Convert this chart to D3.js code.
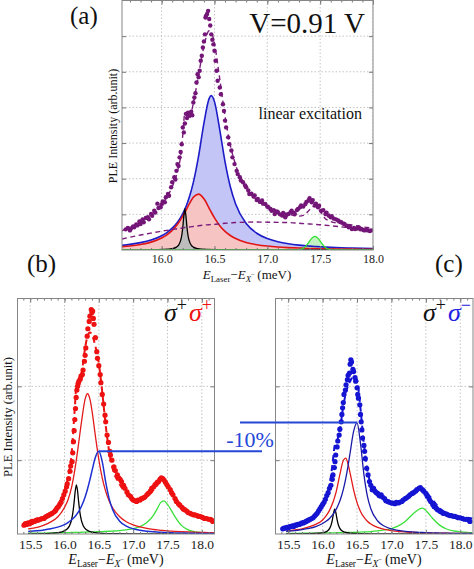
<!DOCTYPE html>
<html>
<head>
<meta charset="utf-8">
<script src="https://cdn.jsdelivr.net/npm/d3@7"></script>
<style>
  body { margin: 0; background: #fff; }
  svg { display: block; font-family: "Liberation Serif", serif; }
  svg text { font-family: "Liberation Serif", serif; }
</style>
</head>
<body>
<svg id="fig" width="474" height="569"></svg>
<script>
// ---- panel (a): linear excitation, V = 0.91 V ----
var aE = [15.625,15.7,15.8,15.9,16.0,16.05,16.1,16.15,16.18,16.2,16.22,16.24,16.26,16.3,16.35,16.4,16.45,16.47,16.5,16.55,16.6,16.65,16.7,16.8,16.9,17.0,17.1,17.2,17.3,17.35,17.4,17.45,17.5,17.55,17.6,17.7,17.8,17.9,18.0];
var aBlue = [0.132,0.159,0.207,0.280,0.400,0.490,0.612,0.780,0.914,1.021,1.146,1.293,1.463,1.896,2.640,3.555,4.254,4.33,4.163,3.372,2.473,1.775,1.293,0.741,0.470,0.321,0.232,0.175,0.137,0.122,0.110,0.099,0.090,0.082,0.075,0.063,0.054,0.047,0.041];
var aRed = [0.092,0.113,0.154,0.221,0.336,0.426,0.550,0.722,0.853,0.952,1.059,1.171,1.284,1.478,1.569,1.436,1.171,1.059,0.901,0.683,0.522,0.406,0.321,0.212,0.149,0.110,0.084,0.067,0.054,0.049,0.044,0.041,0.037,0.034,0.032,0.027,0.024,0.021,0.018];
var aBack = [0.31,0.36,0.42,0.475,0.53,0.55,0.57,0.60,0.61,0.62,0.63,0.64,0.645,0.66,0.68,0.70,0.71,0.715,0.72,0.735,0.75,0.76,0.77,0.78,0.785,0.78,0.775,0.77,0.75,0.74,0.73,0.72,0.71,0.695,0.68,0.65,0.62,0.585,0.55];
var aTotal = [0.54,0.63,0.78,0.98,1.28,1.49,1.77,2.21,2.64,3.22,3.85,3.75,3.68,4.12,4.92,5.71,6.15,6.11,5.79,4.80,3.75,2.94,2.39,1.74,1.41,1.21,1.09,1.01,0.95,0.98,1.13,1.24,1.08,0.88,0.80,0.74,0.70,0.65,0.61];
var aBlackE = [15.625,15.9,16.02,16.1,16.14,16.16,16.18,16.19,16.2,16.21,16.22,16.23,16.24,16.25,16.26,16.28,16.3,16.34,16.42,16.6,18.0];
var aBlack = [0.002,0.005,0.014,0.037,0.081,0.136,0.27,0.40,0.63,0.95,1.15,0.95,0.63,0.40,0.27,0.136,0.081,0.037,0.014,0.004,0.001];
var aGreenE = [15.625,17.25,17.29,17.33,17.36,17.39,17.42,17.45,17.48,17.51,17.54,17.57,17.61,17.65,18.0];
var aGreen = [0,0,0.005,0.032,0.095,0.205,0.326,0.38,0.326,0.205,0.095,0.032,0.005,0,0];
var aDots = [[15.66,0.58],[15.68,0.62],[15.70,0.55],[15.71,0.60],[15.73,0.66],[15.74,0.64],[15.76,0.72],[15.77,0.69],[15.79,0.80],[15.80,0.73],[15.82,0.86],[15.83,0.78],[15.85,0.90],[15.87,0.92],[15.88,0.86],[15.90,1.01],[15.91,0.96],[15.93,1.10],[15.94,1.05],[15.96,1.30],[15.97,1.18],[15.99,1.20],[16.00,1.28],[16.01,1.36],[16.03,1.34],[16.04,1.48],[16.06,1.57],[16.07,1.52],[16.09,1.76],[16.10,1.90],[16.12,2.04],[16.13,1.98],[16.14,2.22],[16.15,2.41],[16.16,2.36],[16.17,2.60],[16.18,2.75],[16.19,2.97],[16.20,3.44],[16.21,3.30],[16.22,3.55],[16.23,3.82],[16.24,3.70],[16.25,3.85],[16.26,3.77],[16.27,3.80],[16.28,3.88],[16.29,3.78],[16.30,4.14],[16.31,4.28],[16.32,4.40],[16.33,4.70],[16.34,4.93],[16.35,4.85],[16.36,5.03],[16.37,5.31],[16.38,5.45],[16.39,5.68],[16.40,5.85],[16.41,6.05],[16.415,6.52],[16.42,6.57],[16.43,6.62],[16.44,6.71],[16.45,6.48],[16.46,6.30],[16.47,6.05],[16.48,5.90],[16.49,5.77],[16.50,5.59],[16.51,5.31],[16.52,5.03],[16.53,4.75],[16.55,4.56],[16.56,4.37],[16.58,4.09],[16.59,3.90],[16.60,3.63],[16.61,3.44],[16.63,3.16],[16.64,2.97],[16.66,2.79],[16.67,2.60],[16.69,2.41],[16.71,2.22],[16.72,2.13],[16.74,2.04],[16.75,1.95],[16.77,1.90],[16.79,1.81],[16.80,1.76],[16.82,1.67],[16.83,1.57],[16.85,1.58],[16.87,1.50],[16.88,1.53],[16.90,1.40],[16.91,1.43],[16.93,1.35],[16.95,1.39],[16.96,1.30],[16.98,1.29],[17.00,1.22],[17.01,1.20],[17.03,1.15],[17.04,1.10],[17.06,1.12],[17.07,1.01],[17.09,1.08],[17.10,1.06],[17.12,1.00],[17.14,0.97],[17.15,1.04],[17.17,0.92],[17.18,0.98],[17.20,1.01],[17.22,1.06],[17.23,1.10],[17.25,1.05],[17.26,1.01],[17.28,1.12],[17.29,1.15],[17.31,1.20],[17.32,1.25],[17.34,1.22],[17.36,1.29],[17.37,1.35],[17.39,1.39],[17.40,1.45],[17.42,1.34],[17.43,1.40],[17.45,1.25],[17.46,1.30],[17.48,1.20],[17.49,1.24],[17.51,1.10],[17.53,1.12],[17.55,1.01],[17.56,1.05],[17.58,0.97],[17.60,0.92],[17.61,0.95],[17.63,0.88],[17.65,0.86],[17.67,0.83],[17.68,0.80],[17.70,0.78],[17.72,0.74],[17.73,0.73],[17.75,0.68],[17.77,0.64],[17.78,0.66],[17.80,0.59],[17.82,0.62],[17.83,0.59],[17.85,0.60],[17.86,0.64],[17.88,0.58],[17.89,0.59],[17.91,0.56],[17.92,0.55],[17.94,0.57],[17.95,0.55],[17.97,0.53],[17.98,0.55]];

// ---- panels (b) sigma+sigma+ and (c) sigma+sigma- share one energy grid ----
var bcE = [15.47,15.6,15.7,15.8,15.9,16.0,16.05,16.1,16.15,16.175,16.2,16.25,16.3,16.335,16.37,16.4,16.45,16.5,16.55,16.6,16.65,16.7,16.8,16.9,17.0,17.1,17.2,17.3,17.35,17.4,17.45,17.5,17.55,17.6,17.7,17.8,17.9,18.0,18.1,18.175];

var bRed = [0.07,0.09,0.12,0.165,0.23,0.36,0.46,0.62,0.87,1.02,1.19,1.537,1.827,1.90,1.827,1.670,1.327,1.006,0.757,0.577,0.448,0.355,0.236,0.166,0.123,0.095,0.075,0.061,0.055,0.050,0.046,0.042,0.039,0.036,0.031,0.027,0.024,0.021,0.019,0.017];
var bBlue = [0.033,0.043,0.054,0.070,0.093,0.128,0.154,0.189,0.234,0.263,0.296,0.382,0.501,0.609,0.736,0.856,1.04,1.12,0.976,0.704,0.480,0.333,0.177,0.107,0.071,0.050,0.037,0.029,0.026,0.023,0.021,0.019,0.017,0.015,0.013,0.011,0.0096,0.0084,0.0073,0.0067];
var bGreen = [0.010,0.012,0.013,0.015,0.017,0.018,0.019,0.020,0.021,0.021,0.022,0.024,0.026,0.027,0.028,0.029,0.030,0.031,0.033,0.035,0.037,0.040,0.047,0.057,0.072,0.100,0.155,0.260,0.340,0.425,0.448,0.400,0.330,0.250,0.120,0.055,0.030,0.020,0.015,0.012];
var bTotal = [0.12,0.16,0.21,0.28,0.39,0.59,0.76,1.06,1.71,2.03,2.07,2.19,2.52,2.68,2.73,2.70,2.54,2.31,1.92,1.47,1.12,0.89,0.68,0.55,0.47,0.45,0.50,0.60,0.66,0.71,0.72,0.67,0.60,0.52,0.38,0.30,0.26,0.23,0.21,0.19];
var bBlackE = [15.47,15.8,15.95,16.03,16.07,16.1,16.12,16.14,16.155,16.173,16.19,16.205,16.225,16.245,16.275,16.32,16.4,16.55,16.8,17.3,18.175];
var bBlack = [0.003,0.0095,0.026,0.060,0.107,0.183,0.279,0.432,0.573,0.665,0.582,0.442,0.285,0.187,0.108,0.057,0.025,0.0093,0.0034,0.001,0.0003];
var bDots = [[15.41,0.12],[15.43,0.14],[15.45,0.13],[15.47,0.15],[15.49,0.14],[15.51,0.16],[15.53,0.17],[15.56,0.17],[15.58,0.18],[15.60,0.19],[15.62,0.19],[15.65,0.20],[15.67,0.21],[15.70,0.21],[15.72,0.23],[15.74,0.24],[15.76,0.25],[15.78,0.26],[15.80,0.27],[15.82,0.28],[15.85,0.30],[15.87,0.32],[15.89,0.35],[15.91,0.37],[15.93,0.40],[15.95,0.43],[15.97,0.48],[15.99,0.53],[16.01,0.58],[16.03,0.64],[16.04,0.68],[16.06,0.75],[16.08,0.85],[16.09,0.92],[16.11,0.98],[16.12,1.10],[16.13,1.25],[16.14,1.40],[16.15,1.55],[16.16,1.70],[16.17,1.85],[16.18,1.95],[16.19,2.00],[16.20,2.04],[16.21,2.07],[16.23,2.10],[16.24,2.14],[16.26,2.16],[16.27,2.22],[16.29,2.34],[16.30,2.42],[16.31,2.52],[16.33,2.68],[16.34,2.78],[16.36,2.88],[16.37,2.95],[16.39,3.04],[16.40,3.00],[16.41,3.02],[16.42,2.92],[16.43,2.84],[16.45,2.66],[16.47,2.47],[16.48,2.38],[16.50,2.28],[16.52,2.16],[16.53,2.05],[16.55,1.89],[16.57,1.76],[16.59,1.61],[16.60,1.52],[16.62,1.34],[16.64,1.24],[16.66,1.12],[16.67,1.07],[16.69,1.00],[16.72,0.91],[16.74,0.86],[16.77,0.80],[16.79,0.76],[16.81,0.74],[16.83,0.71],[16.86,0.66],[16.88,0.62],[16.91,0.57],[16.93,0.53],[16.96,0.51],[16.98,0.48],[17.00,0.46],[17.03,0.45],[17.05,0.44],[17.07,0.46],[17.10,0.46],[17.12,0.48],[17.15,0.49],[17.17,0.50],[17.20,0.53],[17.22,0.55],[17.25,0.58],[17.27,0.62],[17.30,0.64],[17.32,0.67],[17.35,0.70],[17.37,0.71],[17.39,0.74],[17.41,0.76],[17.43,0.75],[17.45,0.73],[17.47,0.70],[17.49,0.67],[17.51,0.64],[17.54,0.60],[17.56,0.56],[17.58,0.53],[17.61,0.48],[17.63,0.44],[17.66,0.41],[17.68,0.39],[17.71,0.36],[17.73,0.34],[17.75,0.33],[17.78,0.31],[17.80,0.29],[17.83,0.28],[17.85,0.27],[17.88,0.26],[17.90,0.26],[17.93,0.25],[17.95,0.24],[17.97,0.24],[18.00,0.23],[18.02,0.22],[18.04,0.21],[18.07,0.21],[18.10,0.20],[18.12,0.20],[18.14,0.19],[18.16,0.17]];

var cRed = [0.04,0.055,0.07,0.095,0.13,0.19,0.245,0.32,0.43,0.50,0.585,0.803,0.996,1.027,0.947,0.822,0.599,0.425,0.306,0.227,0.173,0.135,0.089,0.062,0.046,0.035,0.028,0.022,0.020,0.019,0.017,0.016,0.014,0.013,0.011,0.010,0.009,0.008,0.007,0.006];
var cBlue = [0.036,0.047,0.059,0.076,0.101,0.142,0.172,0.211,0.265,0.299,0.340,0.446,0.600,0.746,0.926,1.104,1.390,1.51,1.226,0.805,0.514,0.343,0.176,0.105,0.069,0.049,0.036,0.028,0.025,0.022,0.020,0.018,0.016,0.015,0.0125,0.0107,0.0092,0.008,0.0071,0.0065];
var cGreen = [0.008,0.009,0.010,0.011,0.012,0.013,0.014,0.015,0.016,0.016,0.017,0.018,0.019,0.020,0.021,0.022,0.023,0.024,0.026,0.028,0.030,0.033,0.042,0.055,0.072,0.110,0.170,0.260,0.300,0.335,0.350,0.320,0.265,0.210,0.120,0.068,0.042,0.030,0.022,0.018];
var cTotal = [0.08,0.12,0.15,0.20,0.27,0.39,0.50,0.66,1.00,1.20,1.24,1.41,1.73,1.90,2.01,2.07,2.14,2.09,1.70,1.21,0.87,0.67,0.52,0.45,0.41,0.42,0.46,0.53,0.57,0.60,0.60,0.57,0.52,0.46,0.35,0.28,0.24,0.23,0.22,0.21];
var cBlackE = [15.47,15.8,15.95,16.03,16.07,16.1,16.12,16.14,16.16,16.176,16.19,16.21,16.23,16.25,16.28,16.32,16.4,16.55,16.8,17.3,18.175];
var cBlack = [0.0011,0.0037,0.0102,0.0234,0.0418,0.0727,0.113,0.185,0.289,0.335,0.298,0.195,0.119,0.076,0.043,0.024,0.010,0.0037,0.0014,0.0004,0.0001];
var cDots = [[15.42,0.07],[15.44,0.08],[15.46,0.08],[15.48,0.09],[15.50,0.08],[15.52,0.10],[15.54,0.10],[15.56,0.11],[15.58,0.10],[15.60,0.12],[15.62,0.12],[15.64,0.13],[15.66,0.13],[15.68,0.14],[15.70,0.15],[15.72,0.15],[15.74,0.16],[15.76,0.17],[15.78,0.18],[15.80,0.19],[15.82,0.20],[15.84,0.21],[15.86,0.22],[15.88,0.24],[15.90,0.26],[15.92,0.28],[15.94,0.31],[15.96,0.34],[15.98,0.37],[16.00,0.40],[16.02,0.43],[16.04,0.47],[16.06,0.52],[16.08,0.56],[16.10,0.62],[16.12,0.66],[16.14,0.74],[16.15,0.80],[16.17,0.90],[16.18,0.98],[16.19,1.07],[16.21,1.18],[16.22,1.26],[16.24,1.34],[16.25,1.42],[16.27,1.52],[16.28,1.62],[16.29,1.71],[16.30,1.78],[16.31,1.89],[16.33,1.95],[16.34,2.02],[16.36,2.09],[16.37,2.15],[16.39,2.18],[16.40,2.30],[16.41,2.36],[16.42,2.33],[16.44,2.23],[16.45,2.20],[16.47,2.12],[16.48,2.07],[16.50,1.98],[16.51,1.89],[16.52,1.84],[16.54,1.75],[16.55,1.62],[16.56,1.52],[16.57,1.41],[16.58,1.30],[16.60,1.20],[16.61,1.12],[16.62,1.02],[16.64,0.89],[16.66,0.80],[16.68,0.71],[16.70,0.66],[16.72,0.60],[16.74,0.62],[16.76,0.58],[16.78,0.56],[16.80,0.55],[16.82,0.52],[16.85,0.53],[16.87,0.50],[16.90,0.48],[16.92,0.45],[16.95,0.44],[16.97,0.43],[17.00,0.42],[17.02,0.42],[17.05,0.41],[17.07,0.43],[17.10,0.42],[17.12,0.43],[17.15,0.44],[17.17,0.46],[17.20,0.48],[17.22,0.49],[17.25,0.51],[17.27,0.53],[17.30,0.55],[17.32,0.56],[17.35,0.58],[17.37,0.60],[17.40,0.62],[17.42,0.63],[17.45,0.60],[17.47,0.58],[17.50,0.55],[17.52,0.51],[17.55,0.47],[17.57,0.44],[17.60,0.40],[17.62,0.37],[17.65,0.35],[17.67,0.33],[17.70,0.31],[17.72,0.30],[17.75,0.28],[17.77,0.28],[17.80,0.27],[17.82,0.26],[17.85,0.25],[17.87,0.25],[17.90,0.24],[17.92,0.24],[17.95,0.23],[17.97,0.22],[18.00,0.22],[18.03,0.21],[18.06,0.20],[18.09,0.20],[18.12,0.19],[18.14,0.17]];

// axis ticks and grid
var xTicksA = [16.0, 16.5, 17.0, 17.5, 18.0];
var xTicksBC = [15.5, 16.0, 16.5, 17.0, 17.5, 18.0];
var yGridA = [1, 2, 3, 4, 5, 6];
var yGridBC = [1, 2];

var serif = "Liberation Serif";
var svg = d3.select("#fig").style("font-family", serif);
var defs = svg.append("defs");

var xA = d3.scaleLinear().domain([15.625, 18.0]).range([122, 373]);
var yA = d3.scaleLinear().domain([0, 7]).range([250, 0.5]);
var xB = d3.scaleLinear().domain([15.315, 18.185]).range([17.5, 214.5]);
var xC = d3.scaleLinear().domain([15.315, 18.185]).range([275.5, 473]);
var yBC = d3.scaleLinear().domain([0, 3.19]).range([534, 298.5]);

function clipFor(id, x, y) {
  var xr = x.range(), yr = y.range();
  defs.append("clipPath").attr("id", id).append("rect")
    .attr("x", xr[0]).attr("y", yr[1]).attr("width", xr[1] - xr[0]).attr("height", yr[0] - yr[1]);
}

function line(xs, ys, x, y) {
  return d3.line()
    .x(function(d, i) { return x(xs[i]); })
    .y(function(d) { return y(d); })
    .curve(d3.curveMonotoneX)(ys);
}

function area(xs, ys, x, y) {
  return d3.area()
    .x(function(d, i) { return x(xs[i]); })
    .y0(y(0))
    .y1(function(d) { return y(d); })
    .curve(d3.curveMonotoneX)(ys);
}

function grid(g, x, y, xv, yv) {
  var xr = x.range(), yr = y.range();
  g.selectAll(null).data(xv).enter().append("line")
    .attr("x1", x).attr("x2", x).attr("y1", yr[0]).attr("y2", yr[1])
    .attr("stroke", "#c4c4c4").attr("stroke-width", 1).attr("stroke-dasharray", "1.5,2");
  g.selectAll(null).data(yv).enter().append("line")
    .attr("y1", y).attr("y2", y).attr("x1", xr[0]).attr("x2", xr[1])
    .attr("stroke", "#c4c4c4").attr("stroke-width", 1).attr("stroke-dasharray", "1.5,2");
}

function frame(x, y, xMajor, yMajor, fontSize, pad) {
  var xr = x.range(), yr = y.range();
  var minor = x.ticks(30);
  var g = svg.append("g");
  function style(s) {
    s.select(".domain").remove();
    s.selectAll("line").attr("stroke", "#777");
  }
  g.append("g").attr("transform", "translate(0," + yr[0] + ")")
    .call(d3.axisBottom(x).tickValues(xMajor).tickSizeInner(-4).tickSizeOuter(0)
      .tickPadding(pad).tickFormat(d3.format(".1f")))
    .call(style)
    .attr("font-size", fontSize).attr("font-family", serif)
    .selectAll("text").attr("fill", "#222").style("font-family", serif);
  g.append("g").attr("transform", "translate(0," + yr[0] + ")")
    .call(d3.axisBottom(x).tickValues(minor).tickSize(-2).tickFormat("")).call(style);
  g.append("g").attr("transform", "translate(0," + yr[1] + ")")
    .call(d3.axisTop(x).tickValues(xMajor).tickSize(-4).tickFormat("")).call(style);
  g.append("g").attr("transform", "translate(0," + yr[1] + ")")
    .call(d3.axisTop(x).tickValues(minor).tickSize(-2).tickFormat("")).call(style);
  g.append("g").attr("transform", "translate(" + xr[0] + ",0)")
    .call(d3.axisLeft(y).tickValues(yMajor).tickSize(-4).tickFormat("")).call(style);
  g.append("g").attr("transform", "translate(" + xr[1] + ",0)")
    .call(d3.axisRight(y).tickValues(yMajor).tickSize(-4).tickFormat("")).call(style);
  g.append("rect")
    .attr("x", xr[0]).attr("y", yr[1]).attr("width", xr[1] - xr[0]).attr("height", yr[0] - yr[1])
    .attr("fill", "none").attr("stroke", "#858585").attr("stroke-width", 1);
}

function label(x, y, size, txt) {
  return svg.append("text").attr("x", x).attr("y", y)
    .attr("font-size", size).attr("fill", "#111").style("font-family", serif).text(txt);
}

function xLabel(cx, by, size) {
  var t = label(cx, by, size, null).attr("text-anchor", "middle");
  t.append("tspan").attr("font-style", "italic").text("E");
  t.append("tspan").attr("font-size", size * 0.68).attr("dy", size * 0.22).text("Laser");
  t.append("tspan").attr("dy", -size * 0.22).text("\u2212");
  t.append("tspan").attr("font-style", "italic").text("E");
  t.append("tspan").attr("font-size", size * 0.68).attr("font-style", "italic").attr("dy", size * 0.22).text("X");
  t.append("tspan").attr("font-size", size * 0.5).attr("dy", -size * 0.38).text("\u2212");
  t.append("tspan").attr("dy", size * 0.16).text("\u2009(meV)");
}

function yLabel(bx, cy, size) {
  label(0, 0, size, "PLE Intensity (arb.unit)")
    .attr("transform", "translate(" + bx + "," + cy + ") rotate(-90)")
    .attr("text-anchor", "middle");
}

function dots(g, data, x, y, r, color) {
  g.selectAll(null).data(data).enter().append("circle")
    .attr("cx", function(d) { return x(d[0]); })
    .attr("cy", function(d) { return y(d[1]); })
    .attr("r", r).attr("fill", color);
}

function path(g, d, color, width, dash) {
  var p = g.append("path").attr("d", d).attr("fill", "none")
    .attr("stroke", color).attr("stroke-width", width);
  if (dash) p.attr("stroke-dasharray", dash);
  return p;
}

// ---------- panel (a) ----------
clipFor("clipA", xA, yA);
var gA = svg.append("g").attr("clip-path", "url(#clipA)");
grid(gA, xA, yA, xTicksA, yGridA);
gA.append("path").attr("d", area(aE, aBlue, xA, yA)).attr("fill", "#c3c5f6");
gA.append("path").attr("d", area(aE, aRed, xA, yA)).attr("fill", "#f7c4c4");
gA.append("path").attr("d", area(aBlackE, aBlack, xA, yA)).attr("fill", "#bdbdbd");
gA.append("path").attr("d", area(aGreenE, aGreen, xA, yA)).attr("fill", "#c2f3c2");
path(gA, line(aE, aBlue, xA, yA), "#1c1cc8", 1.6);
path(gA, line(aE, aRed, xA, yA), "#e01414", 1.6);
path(gA, line(aBlackE, aBlack, xA, yA), "#000", 1.3);
path(gA, line(aGreenE, aGreen, xA, yA), "#2fe02f", 1.3);
path(gA, line(aE, aBack, xA, yA), "#7a1d7c", 1.4, "5,3.5");
path(gA, line(aE, aTotal, xA, yA), "#7a1d7c", 1.4, "5,3.5");
dots(gA, aDots, xA, yA, 2.2, "#741578");
frame(xA, yA, xTicksA, yGridA, 12, 4);
xLabel(247, 279, 13);
yLabel(117, 126, 12);

label(365, 33, 29, "V=0.91 V").attr("text-anchor", "end");
label(362, 119, 16, "linear excitation").attr("text-anchor", "end");
label(70, 24, 25, "(a)");
label(27, 272, 25, "(b)");
label(435, 272, 25, "(c)");

// ---------- panel (b) ----------
clipFor("clipB", xB, yBC);
var gB = svg.append("g").attr("clip-path", "url(#clipB)");
grid(gB, xB, yBC, xTicksBC, yGridBC);
path(gB, line(bcE, bGreen, xB, yBC), "#3ae03a", 1.3);
path(gB, line(bBlackE, bBlack, xB, yBC), "#000", 1.3);
path(gB, line(bcE, bRed, xB, yBC), "#e31a1a", 1.3);
path(gB, line(bcE, bBlue, xB, yBC), "#1c2fd0", 1.5);
path(gB, line(bcE, bTotal, xB, yBC), "#ee1111", 2, "6,4");
dots(gB, bDots, xB, yBC, 2.6, "#ee1111");
frame(xB, yBC, xTicksBC, yGridBC, 13.5, 5);
xLabel(116, 564, 14);
yLabel(12, 417, 12.6);

// ---------- panel (c) ----------
clipFor("clipC", xC, yBC);
var gC = svg.append("g").attr("clip-path", "url(#clipC)");
grid(gC, xC, yBC, xTicksBC, yGridBC);
path(gC, line(bcE, cGreen, xC, yBC), "#3ae03a", 1.3);
path(gC, line(cBlackE, cBlack, xC, yBC), "#000", 1.3);
path(gC, line(bcE, cRed, xC, yBC), "#e31a1a", 1.3);
path(gC, line(bcE, cBlue, xC, yBC), "#1a1aa8", 1.3);
path(gC, line(bcE, cTotal, xC, yBC), "#1414d2", 2, "6,4");
dots(gC, cDots, xC, yBC, 2.6, "#1414d2");
frame(xC, yBC, xTicksBC, yGridBC, 13.5, 5);
xLabel(374, 564, 14);

// polarisation labels
function sigma(xEnd, by, color, sign) {
  var t = label(xEnd, by, 26, null).attr("text-anchor", "end");
  t.append("tspan").attr("font-style", "italic").text("\u03c3");
  t.append("tspan").attr("font-size", 18).attr("dy", -10).text("+");
  t.append("tspan").attr("font-style", "italic").attr("fill", color).attr("dy", 10).attr("dx", 2).text("\u03c3");
  t.append("tspan").attr("font-size", 18).attr("fill", color).attr("dy", -10).text(sign);
}
sigma(212, 321, "#ee1111", "+");
sigma(471, 321, "#2222e0", "\u2212");

// -10% comparison of the two blue peaks
var iB = bBlue.indexOf(d3.max(bBlue));
var iC = cBlue.indexOf(d3.max(cBlue));
var lowY = yBC(bBlue[iB]), upY = yBC(cBlue[iC]);
svg.append("line").attr("x1", xB(bcE[iB])).attr("x2", 262).attr("y1", lowY).attr("y2", lowY)
  .attr("stroke", "#2447d8").attr("stroke-width", 2);
svg.append("line").attr("x1", 240).attr("x2", xC(bcE[iC])).attr("y1", upY).attr("y2", upY)
  .attr("stroke", "#2447d8").attr("stroke-width", 2);
label(250, 447, 22, "-10%").attr("text-anchor", "middle").attr("fill", "#2447d8");
</script>
</body>
</html>
